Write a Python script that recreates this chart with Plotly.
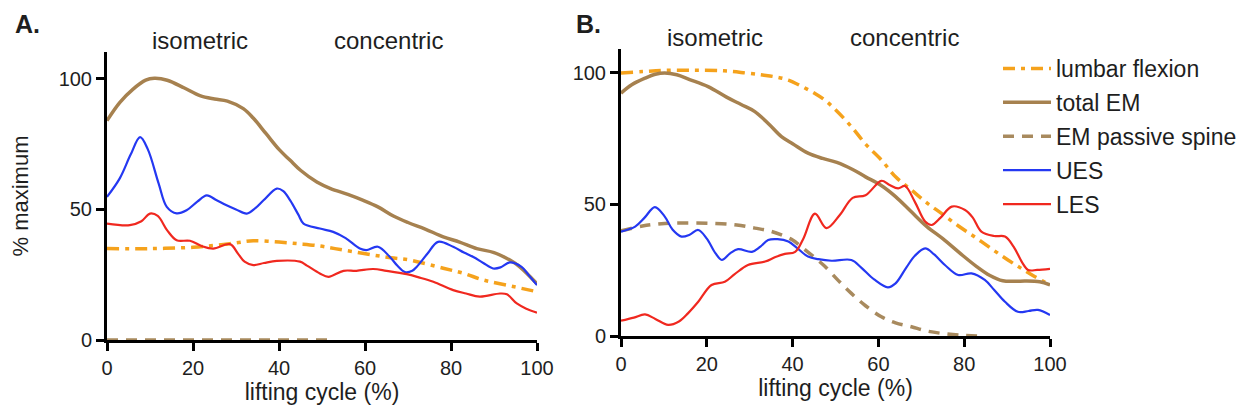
import plotly.graph_objects as go

# ---------------- data: panel A ----------------
a_lumbar_x = [0, 10, 20, 25.5, 30, 34, 40, 45, 49.5, 53, 57.3, 62, 66, 70.5, 78.2, 83, 87.5, 93, 100]
a_lumbar_y = [35, 35, 35.5, 36.3, 37.2, 38, 37.5, 36.8, 36, 35, 33.8, 32.5, 31.5, 30.6, 27.5, 25.5, 23, 21, 18.5]

a_total_x = [0, 3, 6, 9, 11, 14, 18, 21.6, 25, 28, 31.7, 34, 37, 40, 42.6, 45, 48.8, 52, 56, 59.6, 63, 66.6, 70, 74, 78.2, 82, 86, 90, 93.7, 96, 100]
a_total_y = [84, 91, 96, 99.5, 100.2, 99.5, 96.5, 93.6, 92.3, 91.5, 88.6, 85, 79, 73, 68.8, 65, 60.5, 58, 55.8, 53.5, 51, 47.5, 45, 42.5, 39.5, 37.5, 35, 33.5, 30.6, 28, 21.5]

a_passive_x = [0, 52]
a_passive_y = [0, 0]

a_ues_x = [0, 3, 5.5, 7.7, 9.5, 12, 13.9, 16.2, 18.5, 21, 23.2, 25.5, 27.8, 30, 32.5, 34.5, 36.4, 39.5, 41, 42.6, 44.5, 45.7, 49.5, 52.6, 55.5, 58.8, 60.3, 63, 65.8, 67.5, 69.3, 71, 72, 74.5, 77, 80.5, 83, 85.2, 87.5, 89.8, 91.5, 93.7, 96.4, 98, 100]
a_ues_y = [54.8, 62, 71, 77.7, 73, 60, 51, 48.5, 49.7, 53, 55.4, 53.5, 51.6, 50, 48.4, 50.5, 53.5, 58, 57, 53.5, 48, 44.6, 42.7, 41.4, 39, 35, 34.4, 35.7, 31.8, 28.5, 26, 26.5, 28, 33, 37.6, 35.7, 33.5, 31.8, 29.5, 27.4, 27.8, 29.7, 28, 25, 21]

a_les_x = [0, 5.3, 8, 10, 11.8, 14, 16.2, 19.3, 22, 24.7, 28.6, 30.5, 32, 34, 36.5, 39.5, 44.9, 46.5, 49.5, 51.5, 55, 58, 61.9, 65, 69.7, 72.5, 75.9, 80.5, 83.5, 86.7, 91.4, 93, 95.3, 97.5, 100]
a_les_y = [44.6, 44, 45.5, 48.4, 47.5, 42, 38.2, 38, 36, 35, 36.7, 33, 30, 28.7, 29.5, 30.3, 30, 28.5, 25.5, 24.2, 26.5, 26.5, 27.2, 26.5, 25.2, 24, 22.3, 19.1, 17.8, 16.6, 17.8, 17.5, 14, 12, 10.5]

# ---------------- data: panel B ----------------
b_lumbar_x = [0, 5, 10, 17, 24, 29, 33, 36, 39, 42, 45.2, 47.5, 50, 53.7, 57, 60.7, 64, 67.7, 71, 74.7, 78.5, 82.5, 86.5, 90.2, 93.5, 96.5, 100]
b_lumbar_y = [100, 100.5, 101, 101, 100.8, 100, 99.2, 98.5, 97.3, 95, 92.2, 89.7, 86, 79.6, 73, 66.9, 60.5, 55.5, 51, 46.6, 42, 37.6, 33, 28.9, 25.5, 22.5, 19.5]

b_total_x = [0, 2.5, 5.6, 8, 10.2, 13, 16, 20.3, 24.6, 28, 31.2, 34.5, 37.4, 40.1, 43.6, 47, 50.3, 54, 57, 60.4, 64, 67.5, 71.3, 75, 79, 82.9, 86, 89, 92, 94.2, 97.6, 100]
b_total_y = [92.3, 95.5, 98, 99.5, 100, 99.3, 97.5, 94.8, 90.8, 88, 85.3, 80.5, 75.8, 73, 69.5, 67.5, 66, 63.3, 60.5, 57.5, 53, 47.5, 41.6, 37, 31.5, 26.4, 23, 21, 20.8, 20.9, 20.6, 19.4]

b_passive_x = [0, 5, 10.2, 16, 21.9, 27, 31.2, 34.5, 37.4, 40, 42, 45, 47.5, 51, 53.7, 57, 60.7, 64, 67.7, 71, 74.7, 79, 84]
b_passive_y = [40, 41.8, 42.8, 43, 42.8, 42.2, 41, 40, 38.4, 36.5, 34, 30, 26.5, 20.5, 16.2, 11.5, 7.3, 5, 3.5, 2, 1, 0.3, 0]

b_ues_x = [0, 3.3, 5.5, 7.9, 10.2, 12, 14.1, 16, 18, 20, 22, 23.5, 25.5, 27.3, 30.5, 32.5, 34.3, 36.5, 39, 41, 43.6, 46, 49.1, 53.7, 56, 59, 62.2, 64, 66.5, 68.5, 70.9, 73, 75.5, 78.6, 81.7, 84.8, 87, 89.5, 92.5, 95, 97.2, 100]
b_ues_y = [39.7, 41.6, 45, 49, 45.4, 40.5, 37.8, 38.5, 40.3, 37, 31.5, 28.9, 31.5, 33, 32, 34, 36.5, 36.8, 35.9, 33.5, 30.2, 29.2, 28.6, 28.9, 26, 21.5, 18.5, 20, 26, 30.5, 33.3, 31, 27, 23.2, 23.8, 21.3, 17.5, 13, 9.2, 9.5, 9.9, 8]

b_les_x = [0, 3, 5.6, 8, 11, 13.5, 15.6, 18, 21.1, 24.2, 26.5, 29.6, 33.6, 36, 38.2, 40.6, 42.5, 45.2, 47.9, 51, 54, 57, 60.7, 62.5, 64.6, 66.2, 68.5, 70.9, 72.4, 74.5, 77.1, 80.2, 82, 84, 87, 89.5, 91.5, 93.5, 94.9, 97, 100]
b_les_y = [5.8, 7, 8.2, 6.5, 4.2, 5.5, 8.6, 13, 19.4, 20.6, 23.5, 27, 28.3, 30, 31.2, 32, 37, 46.5, 41, 46, 52.5, 53.5, 59, 57.5, 56.1, 57, 51, 43.5, 42.2, 45, 49.2, 47.9, 45, 39.7, 38, 37.8, 34, 28, 25.1, 25.1, 25.5]

series_names = ["lumbar flexion", "total EM", "EM passive spine", "UES", "LES"]
x_ticks = [0, 20, 40, 60, 80, 100]
y_ticks = [0, 50, 100]

# ---------------- styles ----------------
ORANGE = "#F5A21C"
BROWN = "#A6814F"
BROWN2 = "#A88A5E"
BLUE = "#2438F2"
RED = "#F0281F"
TXT = "#1e1e1e"
FONT = "Liberation Sans, Arial, Helvetica, sans-serif"

styles = [
    dict(color=ORANGE, width=3.5, dash="12px,6px,4px,6px"),
    dict(color=BROWN, width=3.5, dash="solid"),
    dict(color=BROWN2, width=3.5, dash="11px,8px"),
    dict(color=BLUE, width=2.2, dash="solid"),
    dict(color=RED, width=2.2, dash="solid"),
]

panels = [
    ("x", "y", [(a_lumbar_x, a_lumbar_y), (a_total_x, a_total_y), (a_passive_x, a_passive_y),
                (a_ues_x, a_ues_y), (a_les_x, a_les_y)], False),
    ("x2", "y2", [(b_lumbar_x, b_lumbar_y), (b_total_x, b_total_y), (b_passive_x, b_passive_y),
                  (b_ues_x, b_ues_y), (b_les_x, b_les_y)], True),
]

fig = go.Figure()
order = [2, 0, 1, 3, 4]
for xa, ya, data, show in panels:
    for i in order:
        xs, ys = data[i]
        fig.add_trace(go.Scatter(
            x=xs, y=ys, xaxis=xa, yaxis=ya, mode="lines",
            line=dict(shape="spline", smoothing=1.0, **styles[i]),
            name=series_names[i], showlegend=show, legendgroup=series_names[i],
            legendrank=i + 1,
        ))

# page has an 8px body margin: figure is 1240x409 placed at (8,8)
OFF = 8
W, H = 1248 - OFF, 417 - OFF
def px_x(p): return (p - OFF) / W
def px_y(p): return (H - (p - OFF)) / H

tickfont = dict(family=FONT, size=20, color=TXT)
title_font = dict(size=23, family=FONT, color=TXT)

fig.update_layout(
    width=W, height=H, margin=dict(l=0, r=0, t=0, b=0, autoexpand=False),
    template="simple_white",
    font=dict(family=FONT, color=TXT),
    showlegend=True,
    legend=dict(x=px_x(998), y=px_y(47), xanchor="left", yanchor="top",
                font=dict(family=FONT, size=23, color=TXT), tracegroupgap=1,
                itemwidth=48, bgcolor="rgba(0,0,0,0)"),
    xaxis=dict(domain=[px_x(107), px_x(537)], anchor="y", range=[0, 100],
               title=dict(text="lifting cycle (%)", font=title_font, standoff=6)),
    yaxis=dict(domain=[px_y(340), px_y(52)], range=[0, 110.3], anchor="x",
               title=dict(text="% maximum", font=dict(size=22, family=FONT, color=TXT), standoff=28)),
    xaxis2=dict(domain=[px_x(621), px_x(1050)], anchor="y2", range=[0, 100],
                title=dict(text="lifting cycle (%)", font=title_font, standoff=6)),
    yaxis2=dict(domain=[px_y(336), px_y(49)], range=[0, 109.1], anchor="x2"),
)
fig.update_xaxes(showline=True, linecolor="black", linewidth=3, ticks="outside",
                 ticklen=8, tickwidth=3, tickcolor="black", showgrid=False, zeroline=False,
                 tickfont=tickfont, tickvals=x_ticks)
fig.update_yaxes(showline=True, linecolor="black", linewidth=3, ticks="outside",
                 ticklen=8, tickwidth=3, tickcolor="black", showgrid=False, zeroline=False,
                 tickfont=tickfont, tickvals=y_ticks)

ann = [
    ("<b>A.</b>", 13, 24, "left", 25),
    ("isometric", 200, 40, "center", 24),
    ("concentric", 388, 40, "center", 24),
    ("<b>B.</b>", 574, 24, "left", 25),
    ("isometric", 715, 37, "center", 24),
    ("concentric", 904, 37, "center", 24),
]
for text, x, y, xanchor, size in ann:
    fig.add_annotation(text=text, x=px_x(x), y=px_y(y), xref="paper", yref="paper",
                       xanchor=xanchor, yanchor="middle", showarrow=False,
                       font=dict(family=FONT, size=size, color=TXT))

fig.write_html("out.html")
